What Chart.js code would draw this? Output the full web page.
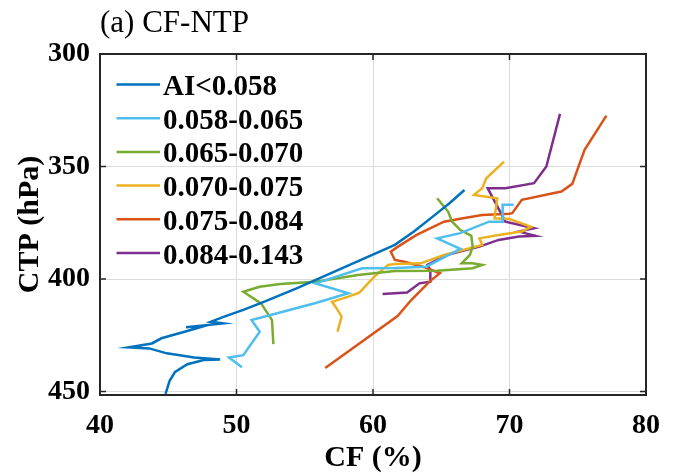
<!DOCTYPE html>
<html><head><meta charset="utf-8">
<script src="https://cdn.jsdelivr.net/npm/chart.js@4.4.0/dist/chart.umd.min.js"></script>
<style>html,body{margin:0;padding:0;background:#fff;}#wrap{width:674px;height:476px;}</style>
</head><body><div id="wrap"><canvas id="c" width="674" height="476"></canvas></div>
<script>
const chartTitle = '(a) CF-NTP';
const xTitle = 'CF (%)';
const yTitle = 'CTP (hPa)';
const seriesLabels = ['AI<0.058', '0.058-0.065', '0.065-0.070', '0.070-0.075', '0.075-0.084', '0.084-0.143'];
const seriesColors = ['#0072BD', '#4DBEEE', '#77AC30', '#EDB120', '#D95319', '#7E2F8E'];
const xTicks = [40, 50, 60, 70, 80];
const yTicks = [300, 350, 400, 450];

const cf1  = [44.8, 45.1, 45.5, 46.4, 47.6, 48.8, 46.9, 44.9, 43.6, 42.1, 43.8, 44.5, 46.2, 47.6, 46.3, 49.0, 48.1, 49.1, 50.5, 52.0, 54.4, 61.6, 63.0, 64.7, 65.6, 66.7];
const ctp1 = [451, 445.2, 441.2, 437.8, 436.0, 435.7, 434.8, 433.0, 430.8, 430.3, 428.6, 426.3, 423.4, 420.9, 421.4, 419.7, 419.0, 416.7, 413.7, 410.1, 404.1, 384.8, 378.9, 370.7, 366.3, 360.4];

const cf2  = [50.4, 49.45, 50.5, 51.7, 51.1, 53.4, 55.8, 58.2, 55.8, 59.2, 61.6, 63.9, 66.4, 64.7, 66.4, 68.5, 69.5, 69.5, 70.3];
const ctp2 = [439.2, 434.8, 433.8, 423.4, 418.2, 414.5, 410.6, 406.3, 401.9, 395.2, 395.1, 394.5, 386.6, 381.9, 379.6, 374.5, 374.5, 367.0, 367.0];

const cf3  = [52.7, 52.6, 51.8, 50.5, 51.7, 53.2, 55.8, 58.9, 61.6, 64.7, 67.3, 68.0, 67.3, 66.5, 67.1, 67.3, 67.2, 66.4, 65.8, 65.5, 64.7];
const ctp3 = [428.9, 418.2, 410.8, 405.6, 403.4, 402.2, 401.2, 398.2, 396.4, 396.3, 395.2, 393.7, 393.0, 393.0, 389.3, 385.6, 380.8, 378.2, 374.5, 370.0, 364.1];

const cf4  = [57.4, 57.7, 57.4, 57.0, 58.2, 59.0, 60.1, 61.1, 61.6, 63.5, 65.2, 66.6, 68.0, 67.8, 69.2, 70.9, 71.6, 70.0, 68.9, 69.1, 67.4, 68.0, 68.3, 69.6];
const ctp4 = [423.4, 416.7, 413.7, 410.1, 407.8, 406.0, 398.9, 393.7, 393.3, 393.0, 389.3, 387.1, 384.8, 381.9, 380.4, 378.9, 376.8, 373.3, 373.0, 364.1, 362.6, 359.6, 355.2, 347.8];

const cf5  = [56.5, 61.8, 62.8, 64.2, 64.9, 63.7, 62.3, 61.6, 61.3, 61.8, 63.2, 65.2, 66.6, 68.0, 70.0, 70.2, 70.9, 73.8, 74.6, 75.5, 77.1];
const ctp5 = [439.5, 416.4, 409.3, 400.8, 397.4, 394.6, 392.3, 391.5, 387.8, 385.7, 380.4, 374.5, 373.0, 371.5, 371.0, 370.7, 364.8, 361.1, 357.7, 342.6, 327.4];

const cf6  = [60.7, 62.5, 63.4, 64.2, 64.2, 64.0, 65.4, 66.8, 67.8, 69.2, 70.7, 71.9, 70.7, 71.8, 69.7, 68.4, 69.7, 71.8, 72.7, 73.7];
const ctp6 = [406.6, 406.0, 401.9, 401.2, 396.0, 393.7, 389.3, 387.1, 385.6, 382.6, 381.1, 380.8, 378.9, 377.4, 374.5, 359.6, 359.6, 357.4, 350.0, 326.6];

const cfSeries = [cf1, cf2, cf3, cf4, cf5, cf6];
const ctpSeries = [ctp1, ctp2, ctp3, ctp4, ctp5, ctp6];

const SERIF = '"Liberation Serif", "Times New Roman", serif';

const datasets = seriesLabels.map((lab, k) => ({
  label: lab,
  data: cfSeries[k].map((v, i) => ({x: v, y: ctpSeries[k][i]})),
  borderColor: seriesColors[k],
  backgroundColor: seriesColors[k],
  borderWidth: 2.5,
  showLine: true,
  pointRadius: 0,
  tension: 0,
  fill: false
}));

const framePlugin = {
  id: 'frame',
  afterDraw(chart) {
    const {ctx, chartArea: a, scales: {x, y}} = chart;
    ctx.save();
    // legend (inside the axes, top-left)
    ctx.textAlign = 'left';
    ctx.textBaseline = 'alphabetic';
    ctx.font = 'bold 29px ' + SERIF;
    chart.data.datasets.forEach((ds, k) => {
      const cy = a.top + 30.5 + k * 33.7;
      ctx.strokeStyle = ds.borderColor;
      ctx.lineWidth = 2.5;
      ctx.beginPath();
      ctx.moveTo(a.left + 16.5, cy);
      ctx.lineTo(a.left + 60, cy);
      ctx.stroke();
      ctx.fillStyle = '#000';
      ctx.fillText(ds.label, a.left + 63, cy + 10.5);
    });
    // box
    ctx.strokeStyle = '#262626';
    ctx.lineWidth = 2;
    ctx.strokeRect(a.left, a.top, a.right - a.left, a.bottom - a.top);
    // inward ticks
    ctx.lineWidth = 1.5;
    ctx.beginPath();
    xTicks.forEach(v => {
      const px = x.getPixelForValue(v);
      ctx.moveTo(px, a.bottom); ctx.lineTo(px, a.bottom - 6);
      ctx.moveTo(px, a.top); ctx.lineTo(px, a.top + 6);
    });
    yTicks.forEach(v => {
      const py = y.getPixelForValue(v);
      ctx.moveTo(a.left, py); ctx.lineTo(a.left + 6, py);
      ctx.moveTo(a.right, py); ctx.lineTo(a.right - 6, py);
    });
    ctx.stroke();
    // panel title
    ctx.fillStyle = '#000';
    ctx.font = '31px ' + SERIF;
    ctx.fillText(chartTitle, 100, 32);
    ctx.restore();
  }
};

new Chart(document.getElementById('c'), {
  type: 'scatter',
  data: {datasets},
  options: {
    responsive: false,
    devicePixelRatio: 1,
    animation: false,
    layout: {padding: {top: 54, right: 18, left: 0, bottom: 0}},
    plugins: {
      tooltip: {enabled: false},
      legend: {display: false}
    },
    scales: {
      x: {
        type: 'linear', min: 40, max: 80,
        afterBuildTicks: s => { s.ticks = xTicks.map(v => ({value: v})); },
        afterFit: s => { s.height = 81; },
        ticks: {color: '#000', padding: 14, font: {family: SERIF, size: 28, weight: 'bold'}},
        grid: {color: '#dcdcdc', lineWidth: 1, drawTicks: false},
        border: {display: false},
        title: {display: true, text: xTitle, color: '#000', padding: {top: 0, bottom: 0}, font: {family: SERIF, size: 30, weight: 'bold'}}
      },
      y: {
        type: 'linear', reverse: true, min: 300, max: 451.5,
        afterBuildTicks: s => { s.ticks = yTicks.map(v => ({value: v})); },
        afterFit: s => { s.width = 100; },
        ticks: {color: '#000', padding: 10, font: {family: SERIF, size: 28, weight: 'bold'}},
        grid: {color: '#dcdcdc', lineWidth: 1, drawTicks: false},
        border: {display: false},
        title: {display: true, text: yTitle, color: '#000', padding: {top: 12, bottom: 0}, font: {family: SERIF, size: 30, weight: 'bold'}}
      }
    }
  },
  plugins: [framePlugin]
});
</script></body></html>
